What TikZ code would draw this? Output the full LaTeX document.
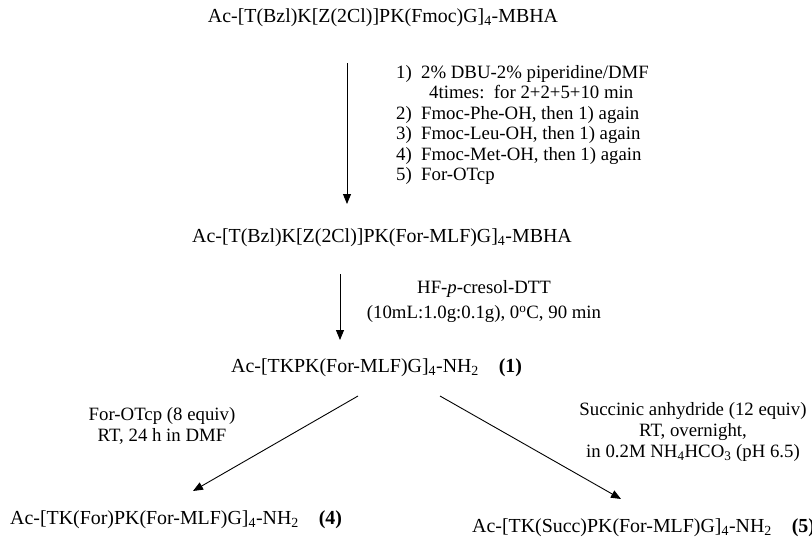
\documentclass[tikz,border=0pt]{standalone}
\usepackage{fontspec}
\setmainfont{Liberation Serif}
\usetikzlibrary{arrows.meta}
\begin{document}
\begin{tikzpicture}[x=1pt,y=-1pt,
  struct/.style={inner sep=0pt, font=\fontsize{19.9}{24}\selectfont},
  cond/.style={inner sep=0pt, font=\fontsize{18.8}{21}\selectfont, align=center},
  rxn/.style={line width=0.9pt, -{Triangle[length=10pt,width=8pt]}}]
\useasboundingbox (0,0) rectangle (812,538);
% structures
\node[struct] (t1) at (383,18) {Ac-[T(Bzl)K[Z(2Cl)]PK(Fmoc)G]\textsubscript{4}-MBHA};
\node[struct] (t2) at (382,238) {Ac-[T(Bzl)K[Z(2Cl)]PK(For-MLF)G]\textsubscript{4}-MBHA};
\node[struct, anchor=west] (t3) at (231,368) {Ac-[TKPK(For-MLF)G]\textsubscript{4}-NH\textsubscript{2}\hspace{1em}\textbf{(1)}};
\node[struct, anchor=west] (p4) at (10,520) {Ac-[TK(For)PK(For-MLF)G]\textsubscript{4}-NH\textsubscript{2}\hspace{1em}\textbf{(4)}};
\node[struct, anchor=west] (p5) at (472,528) {Ac-[TK(Succ)PK(For-MLF)G]\textsubscript{4}-NH\textsubscript{2}\hspace{1em}\textbf{(5)}};
% conditions
\node[cond, anchor=west, font=\fontsize{18.8}{20.5}\selectfont] (c1) at (396,125.5) {%
  \begin{tabular}{@{}l@{\hspace{9.3pt}}l@{}}
  1) & 2\% DBU-2\% piperidine/DMF\\
     & \hspace{8pt}4times:\ \ for 2+2+5+10 min\\
  2) & Fmoc-Phe-OH, then 1) again\\
  3) & Fmoc-Leu-OH, then 1) again\\
  4) & Fmoc-Met-OH, then 1) again\\
  5) & For-OTcp
  \end{tabular}};
\node[cond, font=\fontsize{18.8}{25}\selectfont] (c2) at (484,302) {HF-\textit{p}-cresol-DTT\\(10mL:1.0g:0.1g), 0\textsuperscript{o}C, 90 min};
\node[cond] (c3) at (162,426) {For-OTcp (8 equiv)\\RT, 24 h in DMF};
\node[cond] (c4) at (693,432) {Succinic anhydride (12 equiv)\\RT, overnight,\\in 0.2M NH\textsubscript{4}HCO\textsubscript{3} (pH 6.5)};
% arrows
\coordinate (a1s) at (347,63);
\coordinate (a1e) at (347,204);
\coordinate (a2s) at (340,274);
\coordinate (a2e) at (340,340);
\coordinate (a3s) at (358,396);
\coordinate (a3e) at (193,491);
\coordinate (a4s) at (440,396);
\coordinate (a4e) at (621,499);
\draw[rxn] (a1s) -- (a1e);
\draw[rxn] (a2s) -- (a2e);
\draw[rxn] (a3s) -- (a3e);
\draw[rxn] (a4s) -- (a4e);
\end{tikzpicture}
\end{document}
